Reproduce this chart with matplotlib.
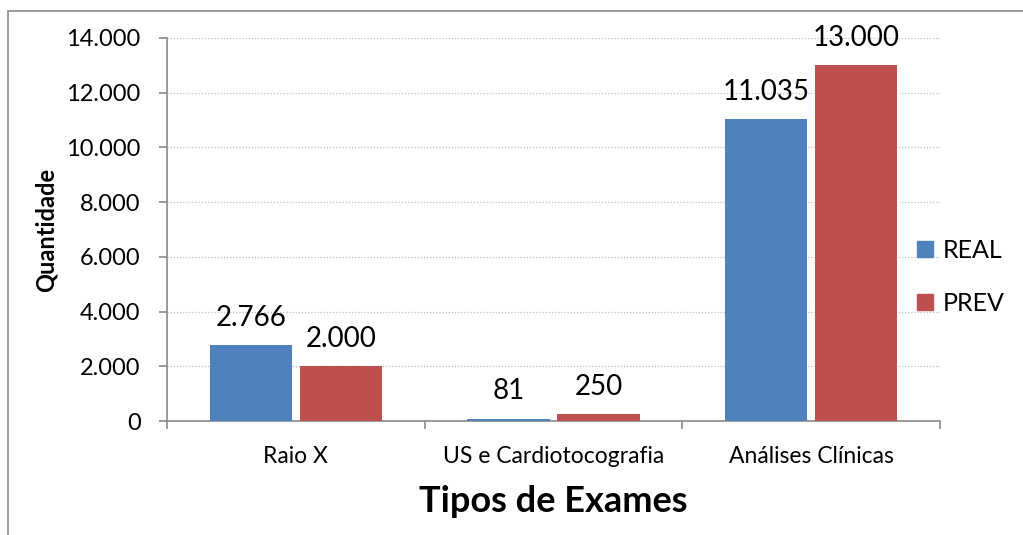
import matplotlib
matplotlib.use("Agg")
import matplotlib.pyplot as plt
from matplotlib.ticker import FuncFormatter, FixedLocator, NullFormatter
from matplotlib.patches import Rectangle, Patch

categories = ["Raio X", "US e Cardiotocografia", "Análises Clínicas"]
real_values = [2766, 81, 11035]
prev_values = [2000, 250, 13000]
series_names = ["REAL", "PREV"]
y_ticks = [0, 2000, 4000, 6000, 8000, 10000, 12000, 14000]

plt.rcParams['font.family'] = ['Lato', 'DejaVu Sans']

def fmt(v):
    return f"{int(v):,}".replace(",", ".")

fig = plt.figure(figsize=(10.23, 5.35), dpi=100)
fig.patches.append(Rectangle((8/1023, -0.1), 1.2, (535-11)/535 + 0.1,
                             transform=fig.transFigure, fill=False,
                             edgecolor='#898989', linewidth=1.2, zorder=0))
ax = fig.add_axes([167/1023, 1-421/535, (940-167)/1023, (421-38)/535])

blue = '#4F81BD'
red = '#C0504D'
w = 0.32
gap = 0.03
xs = list(range(len(categories)))
b1 = ax.bar([x - w/2 - gap/2 for x in xs], real_values, width=w, color=blue, zorder=3, label=series_names[0])
b2 = ax.bar([x + w/2 + gap/2 for x in xs], prev_values, width=w, color=red, zorder=3, label=series_names[1])

for bars, vals in ((b1, real_values), (b2, prev_values)):
    for rect, v in zip(bars, vals):
        ax.annotate(fmt(v), (rect.get_x() + rect.get_width()/2, rect.get_height()),
                    xytext=(0, 14), textcoords='offset points', ha='center', va='baseline',
                    fontsize=20, color='#000000', zorder=4)

ax.set_xlim(-0.5, len(categories) - 0.5)
ax.set_ylim(0, 14000)
ax.set_yticks(y_ticks)
ax.yaxis.set_major_formatter(FuncFormatter(lambda v, p: fmt(v)))
ax.grid(axis='y', linestyle=(0, (1, 1.5)), color='#BFBFBF', linewidth=0.9, zorder=0)

ax.xaxis.set_major_locator(FixedLocator([-0.5, 0.5, 1.5, 2.5]))
ax.xaxis.set_major_formatter(NullFormatter())
ax.xaxis.set_minor_locator(FixedLocator(xs))
ax.set_xticklabels(categories, minor=True)
ax.tick_params(axis='x', which='minor', length=0, labelsize=16.5, pad=18)
ax.tick_params(axis='x', which='major', length=6, color='#898989', width=1.2)
ax.tick_params(axis='y', length=6, color='#898989', width=1.2, labelsize=17, pad=13)

for s in ['top', 'right']:
    ax.spines[s].set_visible(False)
for s in ['left', 'bottom']:
    ax.spines[s].set_color('#898989')
    ax.spines[s].set_linewidth(1.2)

ax.set_ylabel("Quantidade", fontsize=17, fontweight='bold', labelpad=6)
ax.set_xlabel("Tipos de Exames", fontsize=26, fontweight='bold', labelpad=13)

handles = [Patch(color=blue), Patch(color=red)]
fig.legend(handles, series_names, loc='center left', bbox_to_anchor=(917/1023, 1-277/535),
           frameon=False, fontsize=18, handlelength=0.64, handleheight=0.64,
           handletextpad=0.4, labelspacing=1.2, borderpad=0, borderaxespad=0)

fig.savefig("out.png", dpi=100)
